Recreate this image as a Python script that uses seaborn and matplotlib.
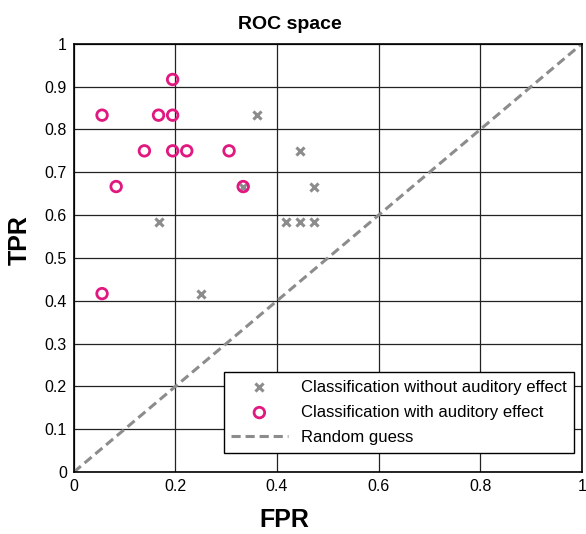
import numpy as np
import pandas as pd
import seaborn as sns
import matplotlib.pyplot as plt

# ROC points
fpr_without = [6/36, 13/36, 16/36, 17/36, 15/36, 16/36, 17/36, 9/36, 12/36]
tpr_without = [7/12, 10/12, 9/12, 8/12, 7/12, 7/12, 7/12, 5/12, 8/12]

fpr_with = [2/36, 7/36, 6/36, 7/36, 5/36, 7/36, 8/36, 11/36, 3/36, 12/36, 2/36]
tpr_with = [10/12, 11/12, 10/12, 10/12, 9/12, 9/12, 9/12, 9/12, 8/12, 8/12, 5/12]

guess = [0, 1]
ticks = [0, 0.2, 0.4, 0.6, 0.8, 1]
yticks = [0, 0.1, 0.2, 0.3, 0.4, 0.5, 0.6, 0.7, 0.8, 0.9, 1]

sns.set_style('white')
plt.rcParams['font.family'] = ['Liberation Sans', 'DejaVu Sans']
plt.rcParams['text.color'] = 'black'
plt.rcParams['axes.labelcolor'] = 'black'

fig = plt.figure(figsize=(5.86, 5.34), dpi=100)
ax = fig.add_axes([0.126, 0.116, 0.867, 0.802])

grey = '#8c8c8c'
pink = '#e0187f'

sns.lineplot(x=guess, y=guess, ax=ax, color=grey, lw=2.2, linestyle=(0, (3, 1.6)),
             label='Random guess', zorder=2)
sns.scatterplot(x=fpr_without, y=tpr_without, ax=ax, marker='x', color=grey, s=34,
                linewidth=2.2, label='Classification without auditory effect', zorder=3)
sns.scatterplot(x=fpr_with, y=tpr_with, ax=ax, marker='o', s=58, facecolors='none',
                edgecolor=pink, linewidth=2, label='Classification with auditory effect', zorder=4)

ax.set_xlim(0, 1)
ax.set_ylim(0, 1)
ax.set_xticks(ticks)
ax.set_xticklabels(['0', '0.2', '0.4', '0.6', '0.8', '1'])
ax.set_yticks(yticks)
ax.set_yticklabels(['0', '0.1', '0.2', '0.3', '0.4', '0.5', '0.6', '0.7', '0.8', '0.9', '1'])
ax.grid(True, color='#222222', lw=0.9)
ax.tick_params(direction='in', length=4, labelsize=11.5, colors='black', pad=5)
for s in ax.spines.values():
    s.set_color('black')
    s.set_linewidth(1.2)

# labels sit a bit off-centre in the original
ax.set_xlabel('FPR', fontsize=18, fontweight='bold', labelpad=12)
ax.xaxis.set_label_coords(0.415, -0.085)
ax.set_ylabel('TPR', fontsize=18, fontweight='bold')
ax.yaxis.set_label_coords(-0.083, 0.542)
fig.text(0.495, 0.954, 'ROC space', fontsize=14, fontweight='bold', ha='center', va='center')

h, l = ax.get_legend_handles_labels()
order = [1, 2, 0]
leg = ax.legend([h[i] for i in order], [l[i] for i in order], loc='lower right',
                bbox_to_anchor=(0.985, 0.045), fontsize=12, frameon=True, fancybox=False,
                edgecolor='black', framealpha=1, borderpad=0.45, handlelength=3.4,
                handletextpad=0.8, labelspacing=0.62, borderaxespad=0)
leg.get_frame().set_linewidth(1.0)

fig.savefig('out.png', dpi=100)
